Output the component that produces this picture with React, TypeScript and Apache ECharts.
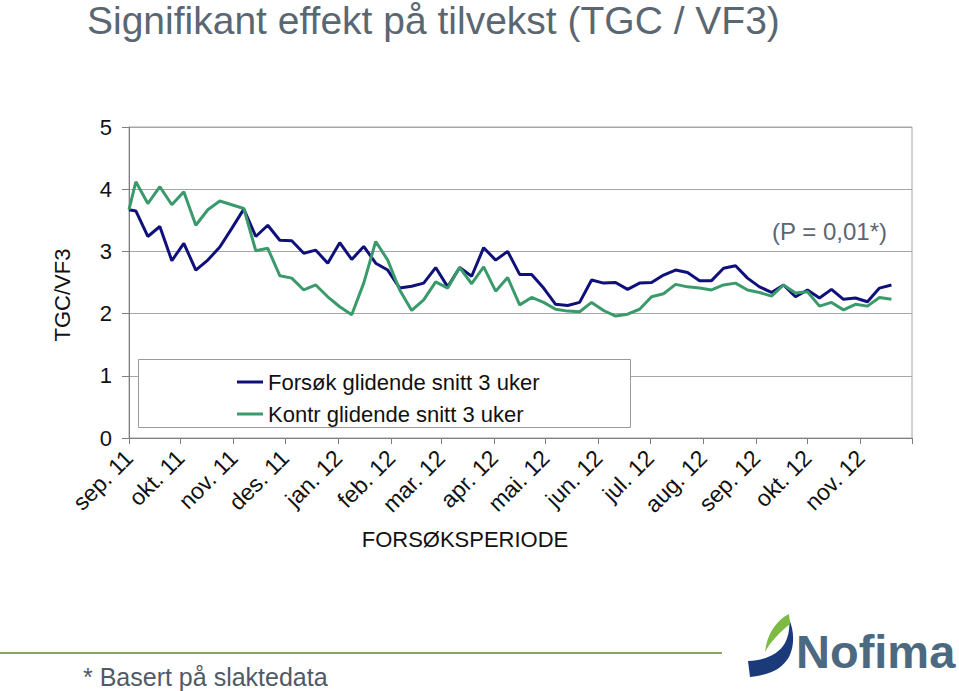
import React, { useEffect, useRef } from "react";
import * as echarts from "echarts";

const weekDates = [
  "2011-09-01", "2011-09-05", "2011-09-12", "2011-09-19", "2011-09-26",
  "2011-10-03", "2011-10-10", "2011-10-17", "2011-10-24", "2011-10-31",
  "2011-11-07", "2011-11-14", "2011-11-21", "2011-11-28",
  "2011-12-05", "2011-12-12", "2011-12-19", "2011-12-26",
  "2012-01-02", "2012-01-09", "2012-01-16", "2012-01-23", "2012-01-30",
  "2012-02-06", "2012-02-13", "2012-02-20", "2012-02-27",
  "2012-03-05", "2012-03-12", "2012-03-19", "2012-03-26",
  "2012-04-02", "2012-04-09", "2012-04-16", "2012-04-23", "2012-04-30",
  "2012-05-07", "2012-05-14", "2012-05-21", "2012-05-28",
  "2012-06-04", "2012-06-11", "2012-06-18", "2012-06-25",
  "2012-07-02", "2012-07-09", "2012-07-16", "2012-07-23", "2012-07-30",
  "2012-08-06", "2012-08-13", "2012-08-20", "2012-08-27",
  "2012-09-03", "2012-09-10", "2012-09-17", "2012-09-24",
  "2012-10-01", "2012-10-08", "2012-10-15", "2012-10-22", "2012-10-29",
  "2012-11-05", "2012-11-12", "2012-11-19",
];

const forsok = [
  3.67, 3.65, 3.24, 3.40, 2.85,
  3.13, 2.70, 2.86, 3.07, 3.37,
  3.68, 3.24, 3.42, 3.18,
  3.17, 2.97, 3.02, 2.81,
  3.14, 2.87, 3.08, 2.81, 2.70,
  2.41, 2.44, 2.49, 2.74,
  2.43, 2.74, 2.60, 3.06,
  2.86, 3.00, 2.63, 2.63, 2.41,
  2.15, 2.13, 2.18, 2.54,
  2.49, 2.50, 2.39, 2.49,
  2.50, 2.62, 2.70, 2.66, 2.53,
  2.53, 2.73, 2.77, 2.57,
  2.43, 2.34, 2.46, 2.27,
  2.38, 2.25, 2.39, 2.23, 2.25,
  2.19, 2.41, 2.46,
];

const kontroll = [
  3.67, 4.12, 3.77, 4.04, 3.75,
  3.96, 3.42, 3.67, 3.81, 3.75,
  3.69, 3.01, 3.05, 2.61,
  2.57, 2.38, 2.46, 2.27,
  2.11, 1.98, 2.49, 3.16, 2.86,
  2.38, 2.05, 2.22, 2.51,
  2.41, 2.74, 2.48, 2.75,
  2.36, 2.58, 2.14, 2.26, 2.18,
  2.07, 2.04, 2.03, 2.18,
  2.05, 1.96, 1.99, 2.07,
  2.27, 2.32, 2.47, 2.43, 2.41,
  2.38, 2.46, 2.49, 2.38,
  2.34, 2.28, 2.46, 2.33,
  2.35, 2.12, 2.18, 2.06, 2.15,
  2.12, 2.26, 2.23,
];

const monthStarts = [
  "2011-09-01", "2011-10-01", "2011-11-01", "2011-12-01",
  "2012-01-01", "2012-02-01", "2012-03-01", "2012-04-01",
  "2012-05-01", "2012-06-01", "2012-07-01", "2012-08-01",
  "2012-09-01", "2012-10-01", "2012-11-01", "2012-12-01",
];

const monthLabels = [
  "sep. 11", "okt. 11", "nov. 11", "des. 11",
  "jan. 12", "feb. 12", "mar. 12", "apr. 12",
  "mai. 12", "jun. 12", "jul. 12", "aug. 12",
  "sep. 12", "okt. 12", "nov. 12",
];

const seriesNames = ["Forsøk glidende snitt 3 uker", "Kontr glidende snitt 3 uker"];

const FONT = "'Liberation Sans', Arial, sans-serif";

// days since the first month start
const dayOf = (s: string) => {
  const [y, m, d] = s.split("-").map(Number);
  const [y0, m0, d0] = monthStarts[0].split("-").map(Number);
  return Math.round((Date.UTC(y, m - 1, d) - Date.UTC(y0, m0 - 1, d0)) / 86400000);
};

const blueSwoosh =
  "M748,661 C765,660 778,655 785,643 C789,635 790,627 789,619 C794,630 795,645 789,657 C782,669 770,675 750,677 Z";
const greenLeaf =
  "M789,614 C777,620 767,633 765,652 C771,641 780,632 790,624 Z";

let registered = false;
function registerLogo() {
  if (registered) return;
  registered = true;
  echarts.graphic.registerShape("nofimaBlue", echarts.graphic.extendPath(blueSwoosh, {}) as any);
  echarts.graphic.registerShape("nofimaGreen", echarts.graphic.extendPath(greenLeaf, {}) as any);
}

export default function App() {
  const ref = useRef<HTMLDivElement>(null);

  useEffect(() => {
    if (!ref.current) return;
    registerLogo();
    const chart = echarts.init(ref.current, undefined, { renderer: "svg" });
    const tickDays = monthStarts.map(dayOf);
    const labelDays = tickDays.slice(0, monthLabels.length);

    const option: any = {
      animation: false,
      backgroundColor: "#ffffff",
      textStyle: { fontFamily: FONT },
      grid: {
        left: 129,
        right: 47,
        top: 127,
        bottom: 253,
        show: true,
        borderColor: "#a6a6a6",
        borderWidth: 1,
      },
      xAxis: {
        type: "value",
        min: tickDays[0],
        max: tickDays[tickDays.length - 1],
        axisLine: { lineStyle: { color: "#7f7f7f", width: 1 } },
        axisTick: {
          show: true,
          customValues: tickDays,
          length: 6,
          lineStyle: { color: "#7f7f7f" },
        },
        axisLabel: {
          customValues: labelDays,
          rotate: 45,
          fontSize: 23,
          color: "#111111",
          fontFamily: FONT,
          margin: 16,
          hideOverlap: false,
          formatter: (v: number) => {
            const i = labelDays.indexOf(Math.round(v));
            return i >= 0 ? monthLabels[i] : "";
          },
        },
        splitLine: { show: false },
      },
      yAxis: {
        type: "value",
        min: 0,
        max: 5,
        interval: 1,
        axisLine: { show: true, lineStyle: { color: "#7f7f7f", width: 1 } },
        axisTick: { show: true, length: 7, lineStyle: { color: "#7f7f7f" } },
        axisLabel: { fontSize: 22, color: "#111111", fontFamily: FONT, margin: 17 },
        splitLine: { show: true, lineStyle: { color: "#a6a6a6", width: 1 } },
      },
      legend: {
        orient: "vertical",
        left: 232,
        top: 366,
        icon: "rect",
        itemWidth: 26,
        itemHeight: 3,
        itemGap: 10,
        z: 6,
        textStyle: { fontSize: 22, color: "#111111", fontFamily: FONT, lineHeight: 22 },
        data: seriesNames,
      },
      series: [
        {
          name: seriesNames[0],
          type: "line",
          symbol: "none",
          showSymbol: false,
          color: "#10107a",
          lineStyle: { width: 3, color: "#10107a" },
          data: weekDates.map((d, i) => [dayOf(d), forsok[i]]),
        },
        {
          name: seriesNames[1],
          type: "line",
          symbol: "none",
          showSymbol: false,
          color: "#3b9a6b",
          lineStyle: { width: 3, color: "#3b9a6b" },
          data: weekDates.map((d, i) => [dayOf(d), kontroll[i]]),
        },
      ],
      graphic: [
        {
          type: "text",
          x: 87,
          y: 20,
          style: {
            text: "Signifikant effekt på tilvekst (TGC / VF3)",
            fontSize: 39,
            fontFamily: FONT,
            fill: "#5a6773",
            verticalAlign: "middle",
          },
        },
        {
          type: "text",
          x: 62,
          y: 295,
          rotation: Math.PI / 2,
          style: {
            text: "TGC/VF3",
            fontSize: 22,
            fontFamily: FONT,
            fill: "#111111",
            align: "center",
            verticalAlign: "middle",
          },
        },
        {
          type: "text",
          x: 465,
          y: 539,
          style: {
            text: "FORSØKSPERIODE",
            fontSize: 22,
            fontFamily: FONT,
            fill: "#111111",
            align: "center",
            verticalAlign: "middle",
          },
        },
        {
          type: "text",
          x: 772,
          y: 231,
          style: {
            text: "(P = 0,01*)",
            fontSize: 24,
            fontFamily: FONT,
            fill: "#5a6773",
            verticalAlign: "middle",
          },
        },
        {
          type: "rect",
          z: 3,
          shape: { x: 138.5, y: 359.5, width: 492, height: 68 },
          style: { fill: "#ffffff", stroke: "#9a9a9a", lineWidth: 1 },
        },
        {
          type: "line",
          shape: { x1: 0, y1: 653, x2: 722, y2: 653 },
          style: { stroke: "#86a85c", lineWidth: 2 },
        },
        {
          type: "text",
          x: 83,
          y: 677,
          style: {
            text: "* Basert på slaktedata",
            fontSize: 25,
            fontFamily: FONT,
            fill: "#505a66",
            verticalAlign: "middle",
          },
        },
        {
          type: "nofimaBlue",
          x: 0,
          y: 0,
          style: { fill: "#1b3a7a" },
        },
        {
          type: "nofimaGreen",
          x: 0,
          y: 0,
          style: { fill: "#7dbb42" },
        },
        {
          type: "text",
          x: 796,
          y: 651,
          style: {
            text: "Nofima",
            fontSize: 47,
            fontWeight: "bold",
            fontFamily: FONT,
            fill: "#4b6a82",
            verticalAlign: "middle",
          },
        },
      ],
    };

    chart.setOption(option);
    return () => chart.dispose();
  }, []);

  return (
    <div
      ref={ref}
      style={{ position: "fixed", left: 0, top: 0, width: 959, height: 691, background: "#fff" }}
    />
  );
}
